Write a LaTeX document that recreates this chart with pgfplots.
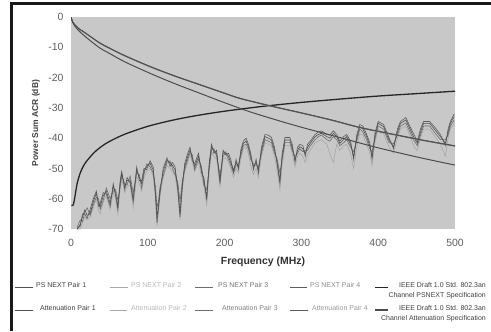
\documentclass[border=0pt]{standalone}
\usepackage{pgfplots}
\pgfplotsset{compat=1.18}
\usepackage{fontspec}
\setmainfont{Liberation Sans}
\definecolor{bgplot}{RGB}{200,200,200}
\definecolor{pone}{RGB}{80,80,80}
\definecolor{ptwo}{RGB}{168,168,168}
\definecolor{pthree}{RGB}{110,110,110}
\definecolor{pfour}{RGB}{92,92,92}
\definecolor{ticktext}{RGB}{95,95,95}
\begin{document}
\begin{tikzpicture}[x=1bp,y=1bp]
\path[use as bounding box, fill=white] (0,0) rectangle (491,331);
\begin{axis}[
  at={(71bp,102bp)}, anchor=south west,
  width=384bp, height=212bp, scale only axis,
  xmin=0, xmax=500, ymin=-70, ymax=0,
  xtick={0,100,200,300,400,500},
  ytick={0,-10,-20,-30,-40,-50,-60,-70},
  axis background/.style={fill=bgplot},
  axis line style={draw=none},
  major tick length=0pt,
  tick style={draw=none},
  /pgf/number format/assume math mode=true,
  ticklabel style={font=\fontsize{10.5}{12}\selectfont, text=ticktext},
  yticklabel style={xshift=-4bp},
  xticklabel style={yshift=-7bp},
  xlabel={Frequency (MHz)},
  ylabel={Power Sum ACR (dB)},
  every axis x label/.style={at={(axis description cs:0.5,0)}, anchor=center, yshift=-33bp, font=\fontsize{10.5}{12}\selectfont\bfseries, text=black!80},
  every axis y label/.style={at={(axis description cs:-0.091,0.5)}, anchor=center, rotate=90, font=\fontsize{8.5}{10}\selectfont\bfseries, text=black!75},
  clip=true,
]
% PS NEXT Pair 2 (light, drawn first so darker lines lie on top)
\addplot[color=ptwo, line width=0.6bp] coordinates {
(8,-70) (12,-70) (15,-68) (18,-66) (21,-67) (25,-66) (29,-63) (33,-60) (36,-64) (38,-65)
(42,-61) (46,-59) (51,-63.5) (55,-58) (58,-60) (61,-65) (64,-57) (66,-53.5) (70,-58) (73,-56)
(77,-55.5) (81,-63) (85.5,-52.5) (89,-55) (92,-57.5) (95,-53) (98.5,-51) (103,-50) (107,-52.5) (110,-60)
(112,-69) (114,-64) (116,-59) (120,-53) (125,-49) (129,-50) (132,-51) (135.5,-52.5) (139,-58) (142,-67)
(145,-57) (148,-51) (152,-48) (155,-45.5) (158,-48) (161,-51) (166,-48) (170,-52.5) (173,-56) (176.7,-62)
(180,-51) (183,-44.5) (186,-46) (189.6,-47) (194,-56) (198,-47) (201,-46.5) (205,-48) (208,-50) (211.6,-53)
(215,-50) (218,-51.5) (221,-47) (224.4,-43.5) (228,-43) (231,-45) (234,-49) (237.6,-52) (241,-50) (244,-53)
(248,-46) (252.6,-41.5) (257,-42) (261,-42.5) (265,-46) (268,-50) (272,-57) (275,-49) (278.6,-42.5) (285,-42.5)
(288,-45) (291.7,-49.5) (295,-46) (298,-45) (302,-46) (305,-48) (308,-45.5) (311.6,-44) (317.7,-41.5) (322,-41)
(326,-40.5) (333,-42) (337,-45) (341.6,-48) (346,-42) (350,-44) (355,-42.5) (359,-42) (364,-45) (368,-50)
(372,-43) (376,-38.5) (380,-39) (385,-42) (389,-45) (392,-49) (396,-41) (400,-37) (407,-38.5) (414,-43)
(420,-45) (425,-40) (429,-37) (436,-36) (442,-39.5) (447,-43) (451,-44) (455,-40) (459,-37) (467,-37)
(474,-39.5) (481,-42) (487.5,-46) (491,-40) (494,-37) (499,-35)
};
% PS NEXT Pair 3
\addplot[color=pthree, line width=0.6bp] coordinates {
(8,-69.5) (12,-67) (15,-67.5) (18,-64.5) (21,-63) (25,-65.5) (29,-62) (33,-59.5) (36,-60) (38,-63.5)
(42,-60.5) (46,-56.5) (51,-60) (55,-57.5) (58,-57) (61,-60.5) (64,-56) (66,-52.5) (70,-55) (73,-55.5)
(77,-52.5) (81,-58) (85.5,-51.5) (89,-52) (92,-56.5) (95,-52) (98.5,-48.5) (103,-49.5) (107,-51.5) (110,-56)
(112,-63) (114,-60.5) (116,-56) (120,-52.5) (125,-48) (129,-47.5) (132,-50) (135.5,-52) (139,-54.5) (142,-61)
(145,-54) (148,-50.5) (152,-47) (155,-44.8) (158,-45.5) (161,-50.5) (166,-47) (170,-49.5) (173,-55.5) (176.7,-57)
(180,-50) (183,-43.8) (186,-43.5) (189.6,-46) (194,-52) (198,-46) (201,-45) (205,-47) (208,-49) (211.6,-51.5)
(215,-49) (218,-48.5) (221,-46) (224.4,-42.5) (228,-42) (231,-43.5) (234,-47) (237.6,-48.5) (241,-49) (244,-49.5)
(248,-45) (252.6,-40.5) (257,-41) (261,-41.5) (265,-45) (268,-46.5) (272,-51.5) (275,-47) (278.6,-41.5) (285,-41.5)
(288,-44) (291.7,-46) (295,-45) (298,-43.5) (302,-44.5) (305,-44) (308,-44) (311.6,-42.5) (317.7,-40.5) (322,-39.5)
(326,-39) (333,-40.5) (337,-41) (341.6,-39.5) (346,-40.5) (350,-42.5) (355,-41.5) (359,-40.5) (364,-43) (368,-44.5)
(372,-41) (376,-37) (380,-38) (385,-40.5) (389,-43.5) (392,-44.5) (396,-40) (400,-36) (407,-37) (414,-41.5)
(420,-41.8) (425,-39) (429,-36) (436,-35) (442,-38.3) (447,-41) (451,-42.5) (455,-39) (459,-36) (467,-36)
(474,-38.3) (481,-40.5) (487.5,-40.5) (491,-39) (494,-36) (499,-34)
};
% PS NEXT Pair 4
\addplot[color=pfour, line width=0.6bp] coordinates {
(8,-70) (12,-69) (15,-65) (18,-65) (21,-66.5) (25,-63.5) (29,-60) (33,-57.5) (36,-62.5) (38,-61.5)
(42,-58) (46,-58.5) (51,-62.5) (55,-55) (58,-59) (61,-63.5) (64,-54) (66,-51) (70,-57) (73,-53)
(77,-54.8) (81,-61) (85.5,-49.5) (89,-54) (92,-54) (95,-50) (98.5,-50.4) (103,-47.5) (107,-49.5) (110,-59)
(112,-68) (114,-63) (116,-58) (120,-50) (125,-46.5) (129,-49.3) (132,-48) (135.5,-49.5) (139,-57) (142,-66)
(145,-56) (148,-48.4) (152,-45) (155,-43) (158,-47.5) (161,-48.4) (166,-45) (170,-51.5) (173,-53) (176.7,-60.5)
(180,-48) (183,-42) (186,-45) (189.6,-44) (194,-55) (198,-44) (201,-45.5) (205,-45) (208,-47) (211.6,-51.5)
(215,-47) (218,-50.4) (221,-44) (224.4,-41) (228,-40) (231,-42) (234,-45) (237.6,-50.4) (241,-47) (244,-51.5)
(248,-43) (252.6,-38.8) (257,-39) (261,-39.8) (265,-43) (268,-48) (272,-55) (275,-45) (278.6,-39.8) (285,-39.8)
(288,-42) (291.7,-48) (295,-43) (298,-42) (302,-42.5) (305,-46) (308,-42) (311.6,-41) (317.7,-38.8) (322,-38)
(326,-37.6) (333,-38.8) (337,-39) (341.6,-37.6) (346,-38.8) (350,-41) (355,-39.5) (359,-38.8) (364,-41) (368,-47)
(372,-39) (376,-35.5) (380,-36) (385,-38.8) (389,-41.5) (392,-47) (396,-38) (400,-34.5) (407,-35.5) (414,-39.8)
(420,-43.5) (425,-37) (429,-34.5) (436,-33.2) (442,-36.5) (447,-39) (451,-41) (455,-37) (459,-34.5) (467,-34.5)
(474,-36.5) (481,-38.8) (487.5,-42.5) (491,-37) (494,-34.5) (499,-32)
};
% PS NEXT Pair 1
\addplot[color=pone, line width=0.6bp] coordinates {
(8,-70) (12,-68.5) (15,-66) (18,-63.7) (21,-65.5) (25,-64.8) (29,-61) (33,-58.2) (36,-61.5) (38,-62.6)
(42,-59) (46,-57.5) (51,-61.5) (55,-56) (58,-58) (61,-62.6) (64,-55) (66,-51.5) (70,-56) (73,-54)
(77,-53.8) (81,-60) (85.5,-50.5) (89,-53) (92,-55) (95,-51) (98.5,-49.4) (103,-48.3) (107,-50.5) (110,-58)
(112,-66) (114,-62) (116,-57) (120,-51) (125,-47.2) (129,-48.3) (132,-49) (135.5,-50.5) (139,-56) (142,-64.8)
(145,-55) (148,-49.4) (152,-46) (155,-43.9) (158,-46.5) (161,-49.4) (166,-46) (170,-50.5) (173,-54) (176.7,-59.3)
(180,-49) (183,-42.8) (186,-44) (189.6,-45) (194,-53.8) (198,-45) (201,-44.5) (205,-46) (208,-48) (211.6,-50.5)
(215,-48) (218,-49.4) (221,-45) (224.4,-41.7) (228,-41) (231,-42.8) (234,-46) (237.6,-49.4) (241,-48) (244,-50.5)
(248,-44) (252.6,-39.5) (257,-40) (261,-40.6) (265,-44) (268,-47.2) (272,-53.8) (275,-46) (278.6,-40.6) (285,-40.6)
(288,-43) (291.7,-47.2) (295,-44) (298,-42.8) (302,-43.5) (305,-45) (308,-43) (311.6,-41.7) (317.7,-39.5) (322,-38.8)
(326,-38.4) (333,-39.5) (337,-40) (341.6,-38.4) (346,-39.5) (350,-41.7) (355,-40.5) (359,-39.5) (364,-42) (368,-46.1)
(372,-40) (376,-36.2) (380,-37) (385,-39.5) (389,-42.5) (392,-46.1) (396,-39) (400,-35.1) (407,-36.2) (414,-40.6)
(420,-42.8) (425,-38) (429,-35.1) (436,-34) (442,-37.3) (447,-40) (451,-41.7) (455,-38) (459,-35.1) (467,-35.1)
(474,-37.3) (481,-39.5) (487.5,-41.7) (491,-38) (494,-35.1) (499,-32.9)
};
% IEEE PSNEXT specification
\addplot[color=black!85, line width=1.3bp, smooth] coordinates {
(0.5,-62.2) (3,-62) (5,-59.5) (8,-55) (12,-51.5) (16,-49.3) (20,-47.7) (30,-44.8) (40,-42.7) (50,-41.1)
(70,-38.7) (100,-36.1) (130,-34.2) (160,-32.7) (200,-31.1) (250,-29.5) (300,-28.2) (350,-27.1) (400,-26.1)
(450,-25.3) (500,-24.5)
};
% Attenuation Pairs 1-4 (nearly coincident)
\addplot[color=ptwo, line width=0.8bp, smooth] coordinates {
(0,0) (2,-1.6) (5,-2.7) (10,-3.9) (16,-4.9) (25,-6.5) (38,-8.8) (50,-10.4) (70,-12.9) (103,-16.5)
(135,-19.6) (168,-22.5) (200,-25.3) (220,-27) (260,-29.5) (300,-31.8) (340,-34.2) (376,-36.6) (420,-38.9)
(460,-40.9) (500,-42.7)
};
\addplot[color=pthree, line width=0.8bp, smooth] coordinates {
(0,0) (2,-1.5) (5,-2.6) (10,-3.8) (16,-4.8) (25,-6.4) (38,-8.7) (50,-10.3) (70,-12.8) (103,-16.4)
(135,-19.5) (168,-22.4) (200,-25.2) (220,-26.9) (260,-29.4) (300,-31.7) (340,-34.1) (376,-36.5) (420,-38.8)
(460,-40.8) (500,-42.6)
};
\addplot[color=pfour, line width=0.8bp, smooth] coordinates {
(0,0) (2,-1.5) (5,-2.6) (10,-3.8) (16,-4.8) (25,-6.4) (38,-8.6) (50,-10.2) (70,-12.7) (103,-16.3)
(135,-19.4) (168,-22.3) (200,-25.1) (220,-26.8) (260,-29.3) (300,-31.6) (340,-34.0) (376,-36.4) (420,-38.7)
(460,-40.7) (500,-42.5)
};
\addplot[color=pone, line width=0.8bp, smooth] coordinates {
(0,0) (2,-1.5) (5,-2.6) (10,-3.8) (16,-4.8) (25,-6.4) (38,-8.7) (50,-10.3) (70,-12.8) (103,-16.4)
(135,-19.5) (168,-22.4) (200,-25.2) (220,-26.9) (260,-29.4) (300,-31.7) (340,-34.1) (376,-36.5) (420,-38.8)
(460,-40.8) (500,-42.6)
};
% IEEE Attenuation specification
\addplot[color=black!70, line width=1.0bp, smooth] coordinates {
(0,0) (2,-1.7) (5,-3) (10,-4.5) (16,-5.9) (25,-7.8) (38,-10.3) (50,-12) (70,-14.8) (103,-18.6)
(135,-22) (168,-25.2) (200,-28.3) (233,-31.3) (270,-34.2) (300,-36.4) (331,-38.5) (363,-40.7) (400,-43.2)
(450,-46.2) (500,-48.9)
};
\end{axis}
% frame
\draw[line width=2.7bp, color=black!90] (11.3,0) -- (11.3,327.7) -- (491,327.7);
% legend
\begin{scope}[every node/.style={inner sep=0pt, font=\fontsize{7}{8}\selectfont}]
% row 1
\draw[color=pone, line width=0.6bp] (15,43.7) -- (33,43.7);
\node[anchor=west, text=black!75] at (36,46) {PS NEXT Pair 1};
\draw[color=ptwo, line width=0.6bp] (110,43.7) -- (128,43.7);
\node[anchor=west, text=black!28] at (131,46) {PS NEXT Pair 2};
\draw[color=pthree, line width=0.6bp] (195,43.7) -- (213,43.7);
\node[anchor=west, text=black!55] at (218,46) {PS NEXT Pair 3};
\draw[color=pfour, line width=0.6bp] (290,43.7) -- (307,43.7);
\node[anchor=west, text=black!45] at (310,46) {PS NEXT Pair 4};
\draw[color=black!85, line width=1.3bp] (375,43.7) -- (388,43.7);
\node[anchor=east, text=black!75] at (486,46) {IEEE Draft 1.0 Std. 802.3an};
\node[anchor=east, text=black!75] at (486,35.3) {Channel PSNEXT Specification};
% row 2
\draw[color=pone, line width=0.6bp] (15,21) -- (33,21);
\node[anchor=west, text=black!75] at (40,22.7) {Attenuation Pair 1};
\draw[color=ptwo, line width=0.6bp] (110,21) -- (127,21);
\node[anchor=west, text=black!28] at (131,22.7) {Attenuation Pair 2};
\draw[color=pthree, line width=0.6bp] (195,21) -- (213,21);
\node[anchor=west, text=black!50] at (222,22.7) {Attenuation Pair 3};
\draw[color=pfour, line width=0.6bp] (290,21) -- (308,21);
\node[anchor=west, text=black!40] at (312,22.7) {Attenuation Pair 4};
\draw[color=black!70, line width=1.3bp] (375,21) -- (388,21);
\node[anchor=east, text=black!75] at (486,23.3) {IEEE Draft 1.0 Std. 802.3an};
\node[anchor=east, text=black!75] at (486,12.7) {Channel Attenuation Specification};
\end{scope}
\end{tikzpicture}
\end{document}
